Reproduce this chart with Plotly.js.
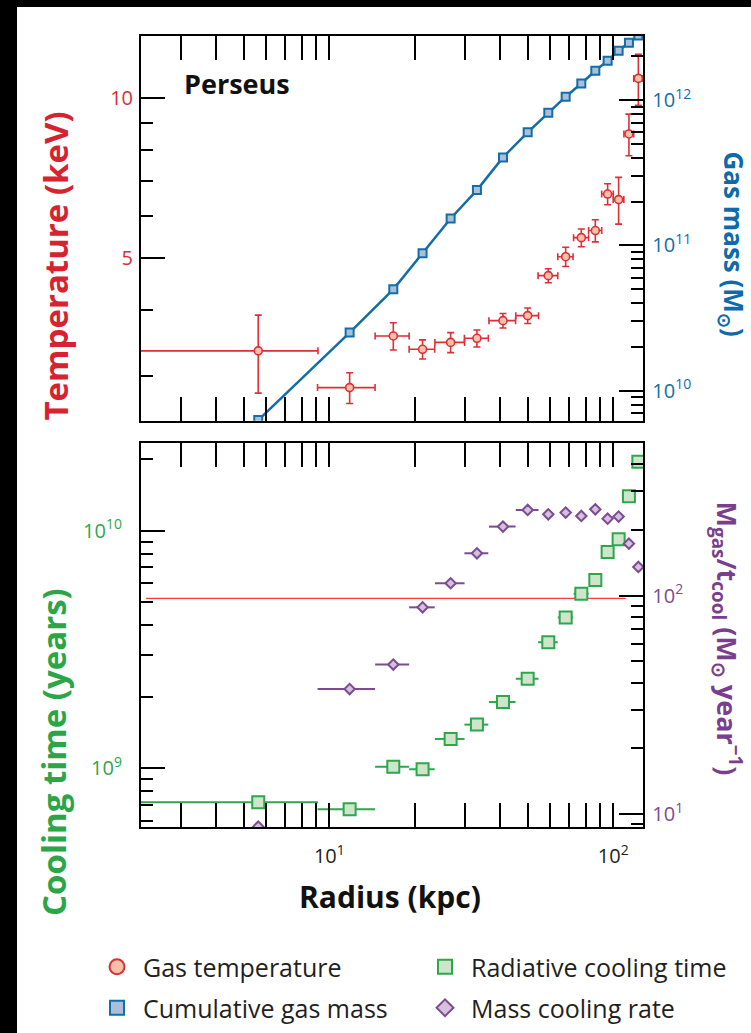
<!DOCTYPE html>
<html><head><meta charset="utf-8">
<script src="https://cdn.plot.ly/plotly-3.0.1.min.js"></script>
<style>html,body{margin:0;padding:0;background:#fff;} #chart{width:751px;height:1033px;}</style>
</head><body><div id="chart"></div>
<script>
// ---- data ----
const radiusKpc   = [5.62, 11.79, 16.8, 21.3, 26.74, 33.1, 40.88, 49.94, 59.03, 67.96, 77.15, 86.43, 95.5, 104.4, 113.5, 122.5];
const radiusErr   = [3.5, 2.7, 2.3, 2.2, 3.2, 3.2, 4.4, 4.6, 4.7, 4.2, 4.7, 4.6, 4.5, 4.5, 4.5, 4.5];
const coolRadErr  = [3.5, 2.7, 2.3, 2.2, 3.2, 3.2, 4.4, 4.6, 4.7, 4.2, 4.7, 0, 0, 0, 0, 0];
const rateRadErr  = [0, 2.7, 2.3, 2.2, 3.2, 3.2, 4.4, 4.6, 0, 0, 0, 0, 0, 0, 0, 0];
const temperatureKeV = [3.35, 2.857, 3.573, 3.373, 3.475, 3.537, 3.818, 3.902, 4.64, 5.037, 5.47, 5.64, 6.607, 6.45, 8.57, 10.9];
const temperatureErr = [0.56, 0.19, 0.21, 0.14, 0.15, 0.13, 0.12, 0.13, 0.14, 0.21, 0.21, 0.27, 0.3, 0.65, 0.77, 1.2];
const gasMassMsun = [6.28e9, 2.51e10, 4.98e10, 8.81e10, 1.53e11, 2.40e11, 4.03e11, 5.99e11, 8.18e11, 1.054e12, 1.30e12, 1.59e12, 1.865e12, 2.18e12, 2.48e12, 2.78e12];
const coolingTimeYr = [7.19e8, 6.72e8, 1.016e9, 9.9e8, 1.329e9, 1.527e9, 1.90e9, 2.384e9, 3.388e9, 4.31e9, 5.43e9, 6.20e9, 8.13e9, 9.19e9, 1.395e10, 1.95e10];
const massCoolingRate = [8.78, 37.4, 48.4, 88.4, 113.9, 156.2, 206.8, 246.5, 235.5, 239.7, 231.4, 248.2, 224.9, 229.8, 172.9, 135.2];
const refLineRadius = [2.26, 110.5];
const refLineTime = [5.19e9, 5.19e9];

const xTickVals = [10, 100];
const xTickText = ['10<sup>1</sup>', '10<sup>2</sup>'];
const tempTickVals = [5, 10];
const tempTickText = ['5', '10'];
const massTickVals = [1e10, 1e11, 1e12];
const massTickText = ['10<sup>10</sup>', '10<sup>11</sup>', '10<sup>12</sup>'];
const coolTickVals = [1e9, 1e10];
const coolTickText = ['10<sup>9</sup>', '10<sup>10</sup>'];
const rateTickVals = [10, 100];
const rateTickText = ['10<sup>1</sup>', '10<sup>2</sup>'];

const legendNames = ['Gas temperature', 'Radiative cooling time', 'Cumulative gas mass', 'Mass cooling rate'];

// ---- styling ----
const W = 751, H = 1033;
const px = v => v / W;
const py = v => 1 - v / H;
const FONT = 'Open Sans';
const C = {
  red: '#dc2f36', redFill: '#f6c1a9', redTitle: '#d7232f',
  blue: '#136dab', blueFill: '#a9c0d8', blueTitle: '#0e6aa8',
  green: '#2ea64c', greenFill: '#cde5c9', greenTitle: '#2aa646',
  purple: '#7d4b91', purpleFill: '#d6c1dc', purpleTitle: '#7a3f8c',
  text: '#231f20'
};

const xDomain = [px(141), px(643.3)];
const topDomain = [py(420.7), py(36)];
const botDomain = [py(827.3), py(443.3)];

const baseAxis = {
  type: 'log', showline: true, linecolor: '#000', linewidth: 2,
  ticks: 'inside', ticklen: 24, tickwidth: 2, tickcolor: '#000',
  showgrid: false, zeroline: false, tickmode: 'array', automargin: false,
  minor: {ticks: 'inside', ticklen: 12, tickwidth: 2, tickcolor: '#000', dtick: 'D1', showgrid: false}
};
const ax = o => Object.assign({}, JSON.parse(JSON.stringify(baseAxis)), o);

const traces = [
  {x: refLineRadius, y: refLineTime, xaxis: 'x', yaxis: 'y', mode: 'lines',
   line: {color: '#ff3b3b', width: 1.2}, showlegend: false, hoverinfo: 'skip'},
  {x: radiusKpc, y: coolingTimeYr, xaxis: 'x', yaxis: 'y', mode: 'markers', showlegend: false,
   error_x: {type: 'data', array: coolRadErr, color: C.green, thickness: 2, width: 0},
   marker: {symbol: 'square', size: 12, color: C.greenFill, line: {color: C.green, width: 2}}},
  {x: radiusKpc, y: massCoolingRate, xaxis: 'x', yaxis: 'y2', mode: 'markers', showlegend: false,
   error_x: {type: 'data', array: rateRadErr, color: C.purple, thickness: 2, width: 0},
   marker: {symbol: 'diamond', size: 8, color: C.purpleFill, line: {color: C.purple, width: 2}}},
  {x: radiusKpc, y: temperatureKeV, xaxis: 'x2', yaxis: 'y3', mode: 'markers', showlegend: false,
   error_x: {type: 'data', array: radiusErr, color: C.red, thickness: 1.6, width: 3.5},
   error_y: {type: 'data', array: temperatureErr, color: C.red, thickness: 1.6, width: 3.5},
   marker: {symbol: 'circle', size: 8, color: C.redFill, line: {color: C.red, width: 1.6}}},
  {x: radiusKpc, y: gasMassMsun, xaxis: 'x2', yaxis: 'y4', mode: 'lines+markers', showlegend: false,
   line: {color: C.blue, width: 2.5},
   marker: {symbol: 'square', size: 8, color: C.blueFill, line: {color: C.blue, width: 2}}},
  // legend entries (one legend box per entry, placed as in the reference)
  {x: [null], y: [null], xaxis: 'x', yaxis: 'y', mode: 'markers', name: legendNames[0], legend: 'legend',
   marker: {symbol: 'circle', size: 15, color: C.redFill, line: {color: C.red, width: 2}}},
  {x: [null], y: [null], xaxis: 'x', yaxis: 'y', mode: 'markers', name: legendNames[1], legend: 'legend2',
   marker: {symbol: 'square', size: 14, color: C.greenFill, line: {color: C.green, width: 2}}},
  {x: [null], y: [null], xaxis: 'x', yaxis: 'y', mode: 'markers', name: legendNames[2], legend: 'legend3',
   marker: {symbol: 'square', size: 14, color: C.blueFill, line: {color: C.blue, width: 2}}},
  {x: [null], y: [null], xaxis: 'x', yaxis: 'y', mode: 'markers', name: legendNames[3], legend: 'legend4',
   marker: {symbol: 'diamond', size: 13, color: C.purpleFill, line: {color: C.purple, width: 2}}}
];

const legendAt = (x, y) => ({
  xanchor: 'left', yanchor: 'middle', x: px(x), y: py(y), itemwidth: 42,
  bgcolor: 'rgba(0,0,0,0)', borderwidth: 0,
  font: {family: FONT, size: 25, color: C.text}
});

const ann = (text, x, y, size, color, angle) => ({
  text, x: px(x), y: py(y), xref: 'paper', yref: 'paper', showarrow: false,
  xanchor: 'center', yanchor: 'middle', textangle: angle || 0,
  font: {family: FONT, size, color, weight: 'bold'}
});

const layout = {
  width: W, height: H, margin: {l: 0, r: 0, t: 0, b: 0, autoexpand: false},
  paper_bgcolor: '#fff', plot_bgcolor: 'rgba(0,0,0,0)',
  font: {family: FONT, color: C.text},
  xaxis: ax({domain: xDomain, anchor: 'y', range: [0.3369, 2.1056], mirror: 'allticks',
    tickvals: xTickVals, ticktext: xTickText, ticklabelstandoff: 10,
    tickfont: {family: FONT, size: 20, color: C.text}}),
  xaxis2: ax({domain: xDomain, anchor: 'y3', range: [0.3369, 2.1056], mirror: 'allticks',
    tickvals: xTickVals, showticklabels: false}),
  yaxis: ax({domain: botDomain, anchor: 'x', side: 'left', range: [8.7518, 10.3675],
    tickvals: coolTickVals, ticktext: coolTickText, ticklabelstandoff: 13,
    tickfont: {family: FONT, size: 20, color: C.green}}),
  yaxis2: ax({overlaying: 'y', anchor: 'x', side: 'right', range: [0.9405, 2.6966],
    tickvals: rateTickVals, ticktext: rateTickText, ticklabelstandoff: 3,
    tickfont: {family: FONT, size: 20, color: C.purple}}),
  yaxis3: ax({domain: topDomain, anchor: 'x2', side: 'left', range: [0.3937, 1.1172],
    tickvals: tempTickVals, ticktext: tempTickText, ticklabelstandoff: 2,
    tickfont: {family: FONT, size: 20, color: C.red}}),
  yaxis4: ax({overlaying: 'y3', anchor: 'x2', side: 'right', range: [9.7936, 12.4404],
    tickvals: massTickVals, ticktext: massTickText, ticklabelstandoff: 3,
    tickfont: {family: FONT, size: 20, color: C.blue}}),
  legend: legendAt(91, 967),
  legend2: legendAt(419, 967),
  legend3: legendAt(91, 1008),
  legend4: legendAt(419, 1008),
  annotations: [
    ann('Perseus', 236.5, 83, 27, '#111'),
    ann('Temperature (keV)', 55, 266.5, 33, C.redTitle, -90),
    ann('Gas mass (M<sub>⊙</sub>)', 732, 243.5, 26, C.blueTitle, 90),
    ann('Cooling time (years)', 53.5, 752.5, 33, C.greenTitle, -90),
    ann('M<sub>gas</sub>/t<sub>cool</sub> (M<sub>⊙</sub> year<sup>−1</sup>)', 727, 638.5, 27, C.purpleTitle, 90),
    ann('Radius (kpc)', 390, 896, 30, '#111')
  ],
  shapes: [
    {type: 'rect', xref: 'paper', yref: 'paper', x0: 0, x1: px(17), y0: 0, y1: 1, fillcolor: '#000', line: {width: 0}, layer: 'above'},
    {type: 'rect', xref: 'paper', yref: 'paper', x0: 0, x1: 1, y0: py(7), y1: 1, fillcolor: '#000', line: {width: 0}, layer: 'above'}
  ]
};

Plotly.newPlot('chart', traces, layout, {staticPlot: true, displayModeBar: false});
</script>
</body></html>
